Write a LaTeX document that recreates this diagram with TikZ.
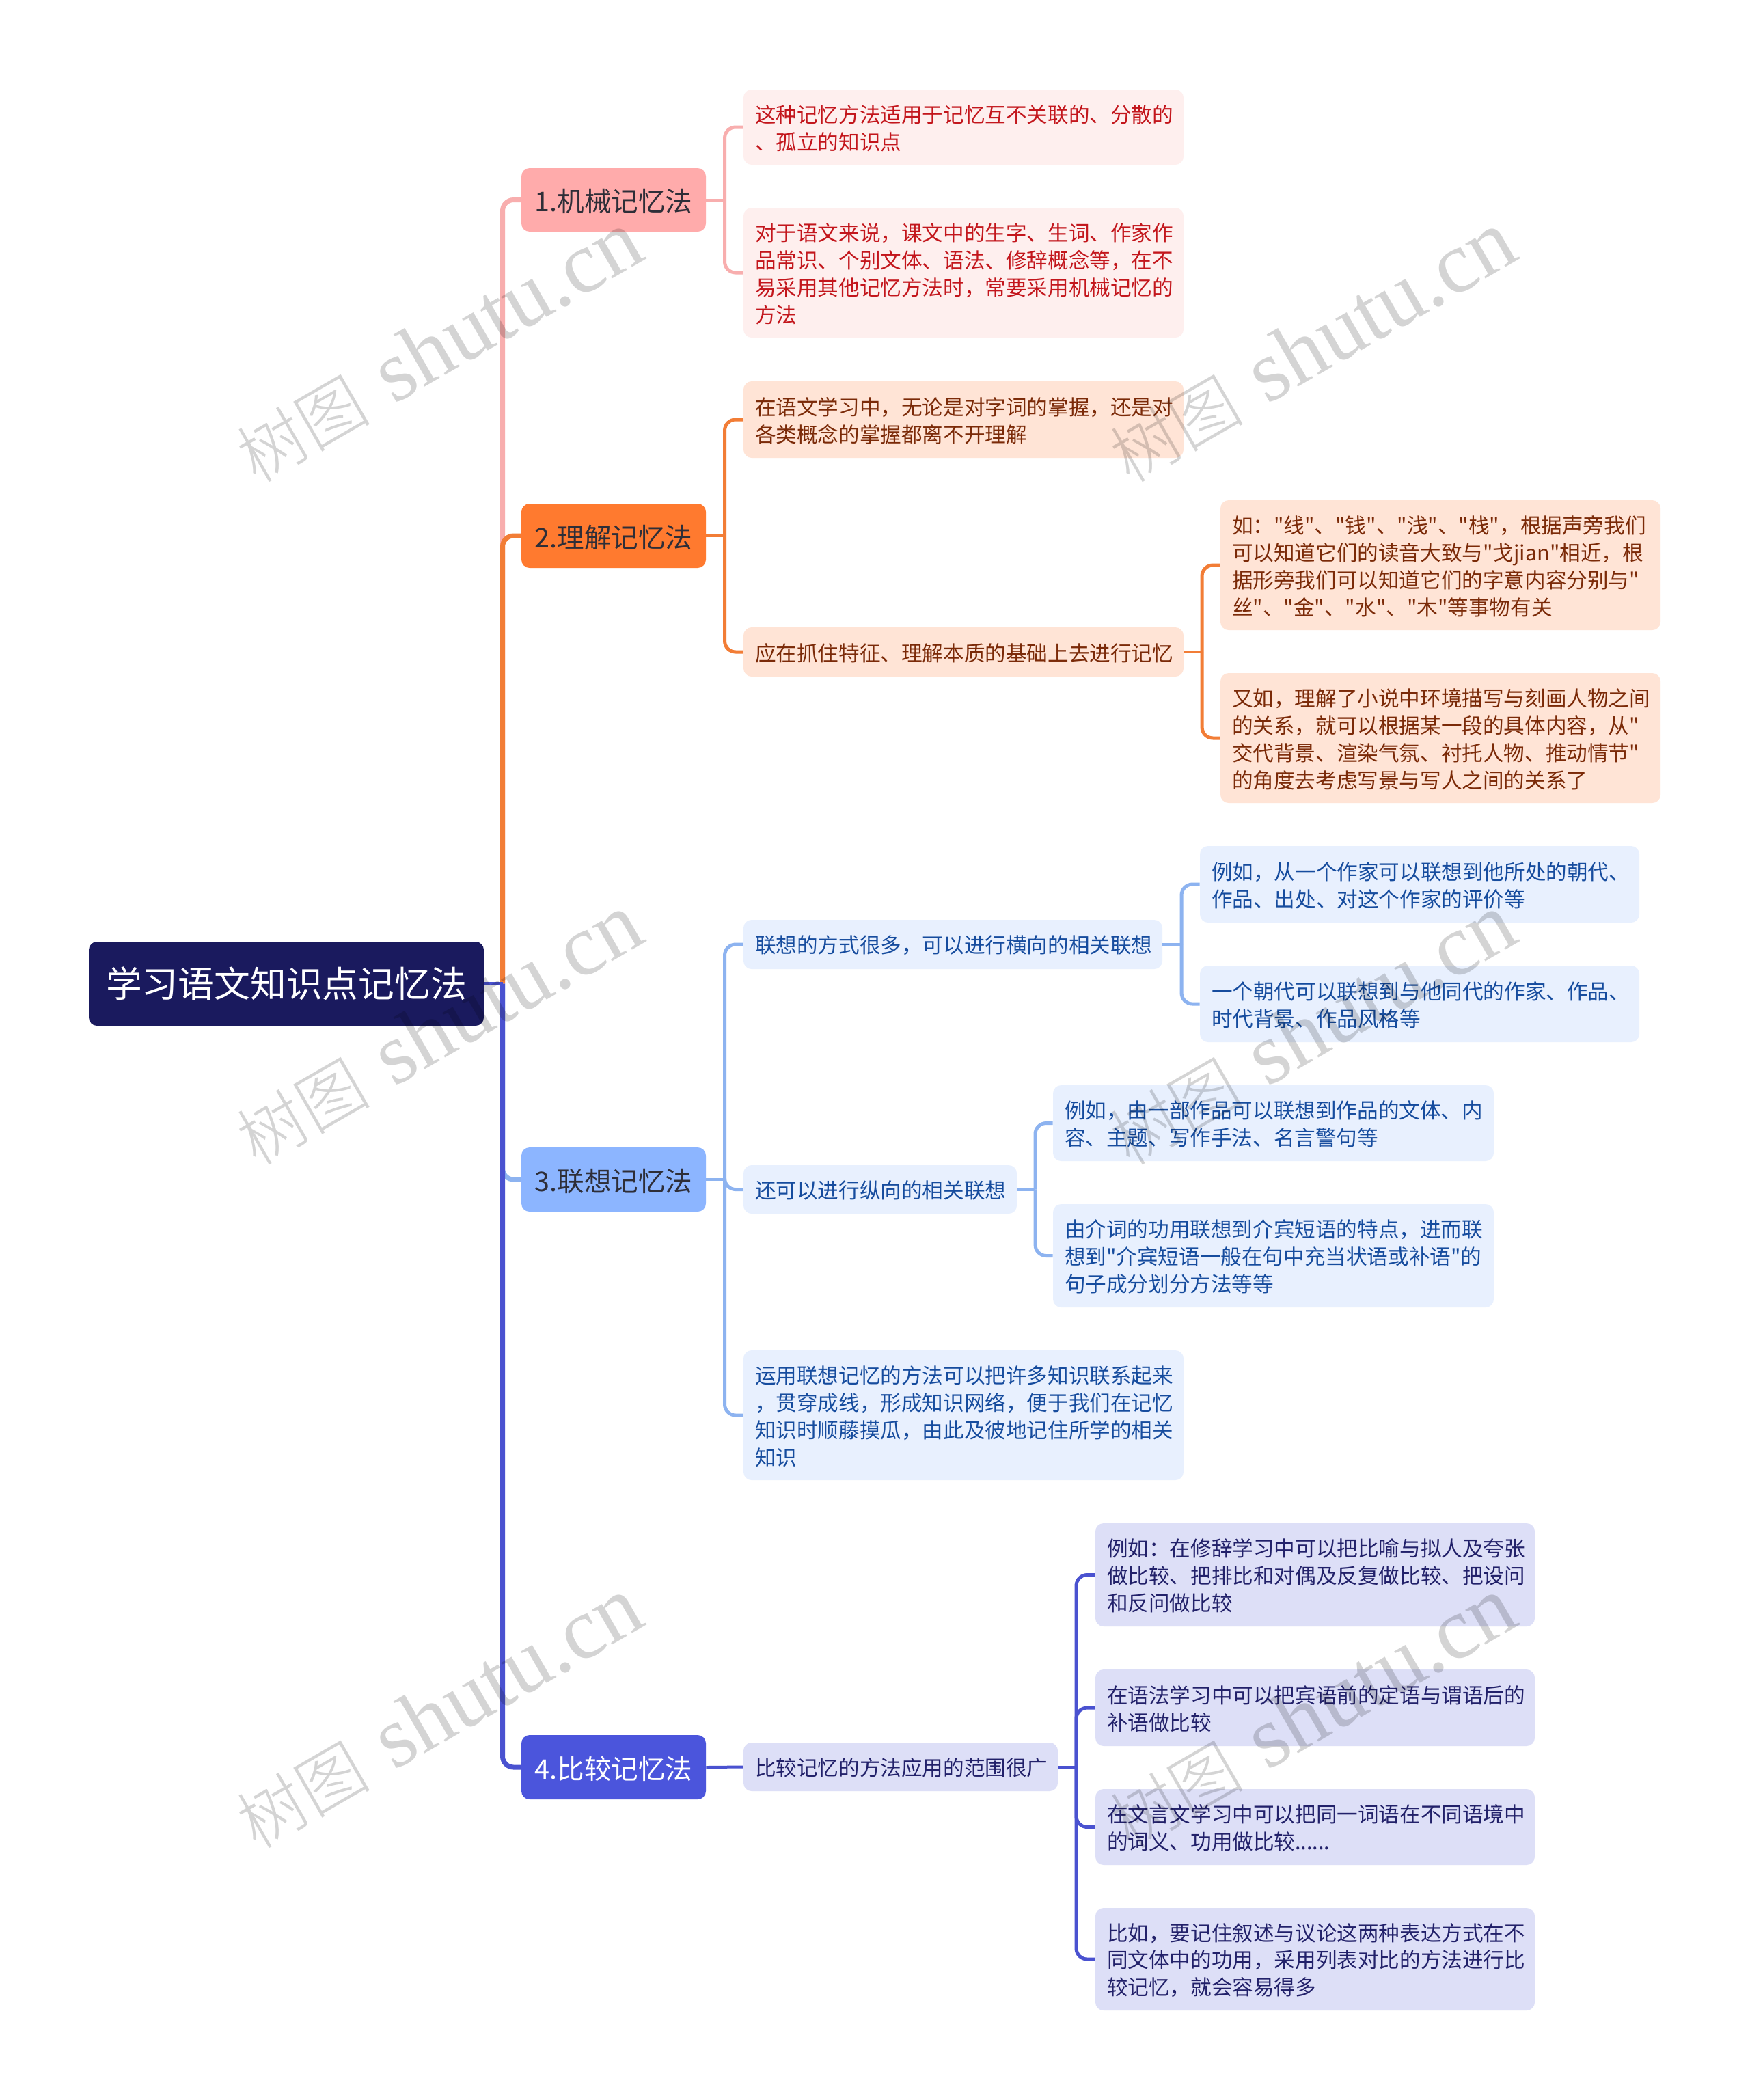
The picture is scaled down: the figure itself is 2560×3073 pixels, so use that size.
\documentclass[tikz,border=0pt]{standalone}
\usepackage{fontspec}
\newfontfamily\cjkbody{Noto Sans CJK SC}
\setmainfont{Noto Sans CJK SC}
\newfontfamily\wmlatin{Liberation Serif}
\newfontfamily\wmcjk{Noto Sans CJK SC}[UprightFont={* Light}]
\definecolor{rootfill}{HTML}{1A1A5E}
\definecolor{pinkline}{HTML}{F8AEAE}
\definecolor{pinkfill}{HTML}{FFABAB}
\definecolor{pinksub}{HTML}{FEEFEE}
\definecolor{pinktext}{HTML}{C3161C}
\definecolor{orgline}{HTML}{F27D36}
\definecolor{orgfill}{HTML}{FF7A2F}
\definecolor{orgsub}{HTML}{FFE4D6}
\definecolor{orgtext}{HTML}{7B2A08}
\definecolor{ltbline}{HTML}{8DB3F0}
\definecolor{ltbfill}{HTML}{8CB5FF}
\definecolor{ltbsub}{HTML}{E8F0FE}
\definecolor{ltbtext}{HTML}{164C9E}
\definecolor{bluline}{HTML}{4A52D0}
\definecolor{blufill}{HTML}{4B55DC}
\definecolor{blusub}{HTML}{DDDFF7}
\definecolor{blutext}{HTML}{22216A}
\definecolor{branchtext}{HTML}{2E2E38}
\tikzset{
  boxbase/.style={rectangle,rounded corners=6pt,inner ysep=0pt,align=left},
  rootbox/.style={boxbase,align=center,fill=rootfill,text=white,font=\cjkbody\fontsize{26.4}{33}\selectfont},
  branchbox/.style={boxbase,align=center,font=\cjkbody\fontsize{19.8}{25}\selectfont},
  subbox/.style={boxbase,font=\cjkbody\fontsize{15.3}{19.95}\selectfont},
  pinkbr/.style={branchbox,fill=pinkfill,text=branchtext},
  orgbr/.style={branchbox,fill=orgfill,text=branchtext},
  ltbbr/.style={branchbox,fill=ltbfill,text=branchtext},
  blubr/.style={branchbox,fill=blufill,text=white},
  pinkn/.style={subbox,fill=pinksub,text=pinktext},
  orgn/.style={subbox,fill=orgsub,text=orgtext},
  ltbn/.style={subbox,fill=ltbsub,text=ltbtext},
  blun/.style={subbox,fill=blusub,text=blutext},
  trunk/.style={line width=3.5pt,rounded corners=8pt},
  rootstem/.style={line width=2.5pt},
  twig/.style={line width=2.5pt,rounded corners=8pt},
  stem/.style={line width=2pt},
  wmark/.style={rotate=30,text=black,text opacity=.17,inner sep=0pt},
}
% name, x1, y1, x2, y2, style, text
\def\mnode#1#2#3#4#5#6#7{%
  \pgfmathsetmacro\mcx{(#2+#4)/2}%
  \pgfmathsetmacro\mcy{(#3+#5)/2}%
  \pgfmathsetmacro\mtw{(#4-#2-34)*0.5}%
  \pgfmathsetmacro\mth{(#5-#3)*0.5}%
  \node[#6,inner xsep=8.5pt,text width=\mtw pt,minimum height=\mth pt] (#1) at (\mcx,\mcy) {\rule{0pt}{.95em}#7};%
}
\begin{document}
\begin{tikzpicture}[x=0.5pt,y=-0.5pt]
\useasboundingbox (0,0) rectangle (2560,3073);
\fill[white] (0,0) rectangle (2560,3073);
% root
\node[rootbox,inner xsep=8.5pt,text width=272pt,minimum height=61.5pt] (root) at (419,1439.5) {学习语文知识点记忆法};
% branches
\mnode{bone}{763}{246}{1033}{339}{pinkbr}{1.机械记忆法}
\mnode{btwo}{763}{737}{1033}{831}{orgbr}{2.理解记忆法}
\mnode{bthree}{763}{1679}{1033}{1773}{ltbbr}{3.联想记忆法}
\mnode{bfour}{763}{2539}{1033}{2633}{blubr}{4.比较记忆法}
% group 1
\mnode{aone}{1088}{131}{1732}{241}{pinkn}{这种记忆方法适用于记忆互不关联的、分散的\\、孤立的知识点}
\mnode{atwo}{1088}{304}{1732}{494}{pinkn}{对于语文来说，课文中的生字、生词、作家作\\品常识、个别文体、语法、修辞概念等，在不\\易采用其他记忆方法时，常要采用机械记忆的\\方法}
% group 2
\mnode{bbone}{1088}{558}{1732}{670}{orgn}{在语文学习中，无论是对字词的掌握，还是对\\各类概念的掌握都离不开理解}
\mnode{bbtwo}{1088}{918}{1732}{990}{orgn}{应在抓住特征、理解本质的基础上去进行记忆}
\mnode{bbtwoa}{1786}{732}{2430}{922}{orgn}{如："线"、"钱"、"浅"、"栈"，根据声旁我们\\可以知道它们的读音大致与"戈jian"相近，根\\据形旁我们可以知道它们的字意内容分别与"\\丝"、"金"、"水"、"木"等事物有关}
\mnode{bbtwob}{1786}{985}{2430}{1175}{orgn}{又如，理解了小说中环境描写与刻画人物之间\\的关系，就可以根据某一段的具体内容，从"\\交代背景、渲染气氛、衬托人物、推动情节"\\的角度去考虑写景与写人之间的关系了}
% group 3
\mnode{cone}{1088}{1346}{1701}{1418}{ltbn}{联想的方式很多，可以进行横向的相关联想}
\mnode{conea}{1756}{1238}{2399}{1350}{ltbn}{例如，从一个作家可以联想到他所处的朝代、\\作品、出处、对这个作家的评价等}
\mnode{coneb}{1756}{1413}{2399}{1525}{ltbn}{一个朝代可以联想到与他同代的作家、作品、\\时代背景、作品风格等}
\mnode{ctwo}{1088}{1705}{1488}{1776}{ltbn}{还可以进行纵向的相关联想}
\mnode{ctwoa}{1541}{1588}{2186}{1699}{ltbn}{例如，由一部作品可以联想到作品的文体、内\\容、主题、写作手法、名言警句等}
\mnode{ctwob}{1541}{1762}{2186}{1913}{ltbn}{由介词的功用联想到介宾短语的特点，进而联\\想到"介宾短语一般在句中充当状语或补语"的\\句子成分划分方法等等}
\mnode{cthree}{1088}{1976}{1732}{2166}{ltbn}{运用联想记忆的方法可以把许多知识联系起来\\，贯穿成线，形成知识网络，便于我们在记忆\\知识时顺藤摸瓜，由此及彼地记住所学的相关\\知识}
% group 4
\mnode{done}{1088}{2550}{1548}{2621}{blun}{比较记忆的方法应用的范围很广}
\mnode{donea}{1603}{2229}{2246}{2380}{blun}{例如：在修辞学习中可以把比喻与拟人及夸张\\做比较、把排比和对偶及反复做比较、把设问\\和反问做比较}
\mnode{doneb}{1603}{2443}{2246}{2555}{blun}{在语法学习中可以把宾语前的定语与谓语后的\\补语做比较}
\mnode{donec}{1603}{2618}{2246}{2729}{blun}{在文言文学习中可以把同一词语在不同语境中\\的词义、功用做比较......}
\mnode{doned}{1603}{2792}{2246}{2942}{blun}{比如，要记住叙述与议论这两种表达方式在不\\同文体中的功用，采用列表对比的方法进行比\\较记忆，就会容易得多}
% spine coordinates
\coordinate (sroot) at (735.5,1439.5);
\coordinate (sone) at (1060.5,292.5);
\coordinate (stwo) at (1060.5,784);
\coordinate (sbb) at (1759,954);
\coordinate (sthree) at (1060.5,1726);
\coordinate (scone) at (1729,1382);
\coordinate (sctwo) at (1515,1740.5);
\coordinate (sfour) at (1060.5,2586);
\coordinate (sdone) at (1575,2585.5);
% level 1 connectors, in painting order
\draw[trunk,pinkline] (sroot) |- (bone.west);
\draw[trunk,orgline] (sroot) |- (btwo.west);
\draw[trunk,ltbline] (sroot) |- (bthree.west);
\draw[trunk,bluline] (sroot) |- (bfour.west);
\draw[rootstem,bluline] (root.east) -- (sroot);
% group 1
\draw[stem,pinkline] (bone.east) -- (sone);
\draw[twig,pinkline] (sone) |- (aone.west);
\draw[twig,pinkline] (sone) |- (atwo.west);
% group 2
\draw[stem,orgline] (btwo.east) -- (stwo);
\draw[twig,orgline] (stwo) |- (bbone.west);
\draw[twig,orgline] (stwo) |- (bbtwo.west);
\draw[stem,orgline] (bbtwo.east) -- (sbb);
\draw[twig,orgline] (sbb) |- (bbtwoa.west);
\draw[twig,orgline] (sbb) |- (bbtwob.west);
% group 3
\draw[stem,ltbline] (bthree.east) -- (sthree);
\draw[twig,ltbline] (sthree) |- (cone.west);
\draw[twig,ltbline] (sthree) |- (ctwo.west);
\draw[twig,ltbline] (sthree) |- (cthree.west);
\draw[stem,ltbline] (cone.east) -- (scone);
\draw[twig,ltbline] (scone) |- (conea.west);
\draw[twig,ltbline] (scone) |- (coneb.west);
\draw[stem,ltbline] (ctwo.east) -- (sctwo);
\draw[twig,ltbline] (sctwo) |- (ctwoa.west);
\draw[twig,ltbline] (sctwo) |- (ctwob.west);
% group 4
\draw[stem,bluline] (bfour.east) -- (done.west);
\draw[stem,bluline] (done.east) -- (sdone);
\draw[twig,bluline] (sdone) |- (donea.west);
\draw[twig,bluline] (sdone) |- (doneb.west);
\draw[twig,bluline] (sdone) |- (donec.west);
\draw[twig,bluline] (sdone) |- (doned.west);
% watermarks
\foreach \wx/\wy/\wn in {642/508/a,1920/508/b,642/1507/c,1920/1507/d,642/2507/e,1920/2507/f}{
  \node[wmark] (wm\wn) at (\wx,\wy) {{\fontsize{49}{60}\selectfont\wmcjk 树图}\hspace{18pt}{\fontsize{64}{60}\selectfont\wmlatin shutu.cn}};
}
\end{tikzpicture}
\end{document}
